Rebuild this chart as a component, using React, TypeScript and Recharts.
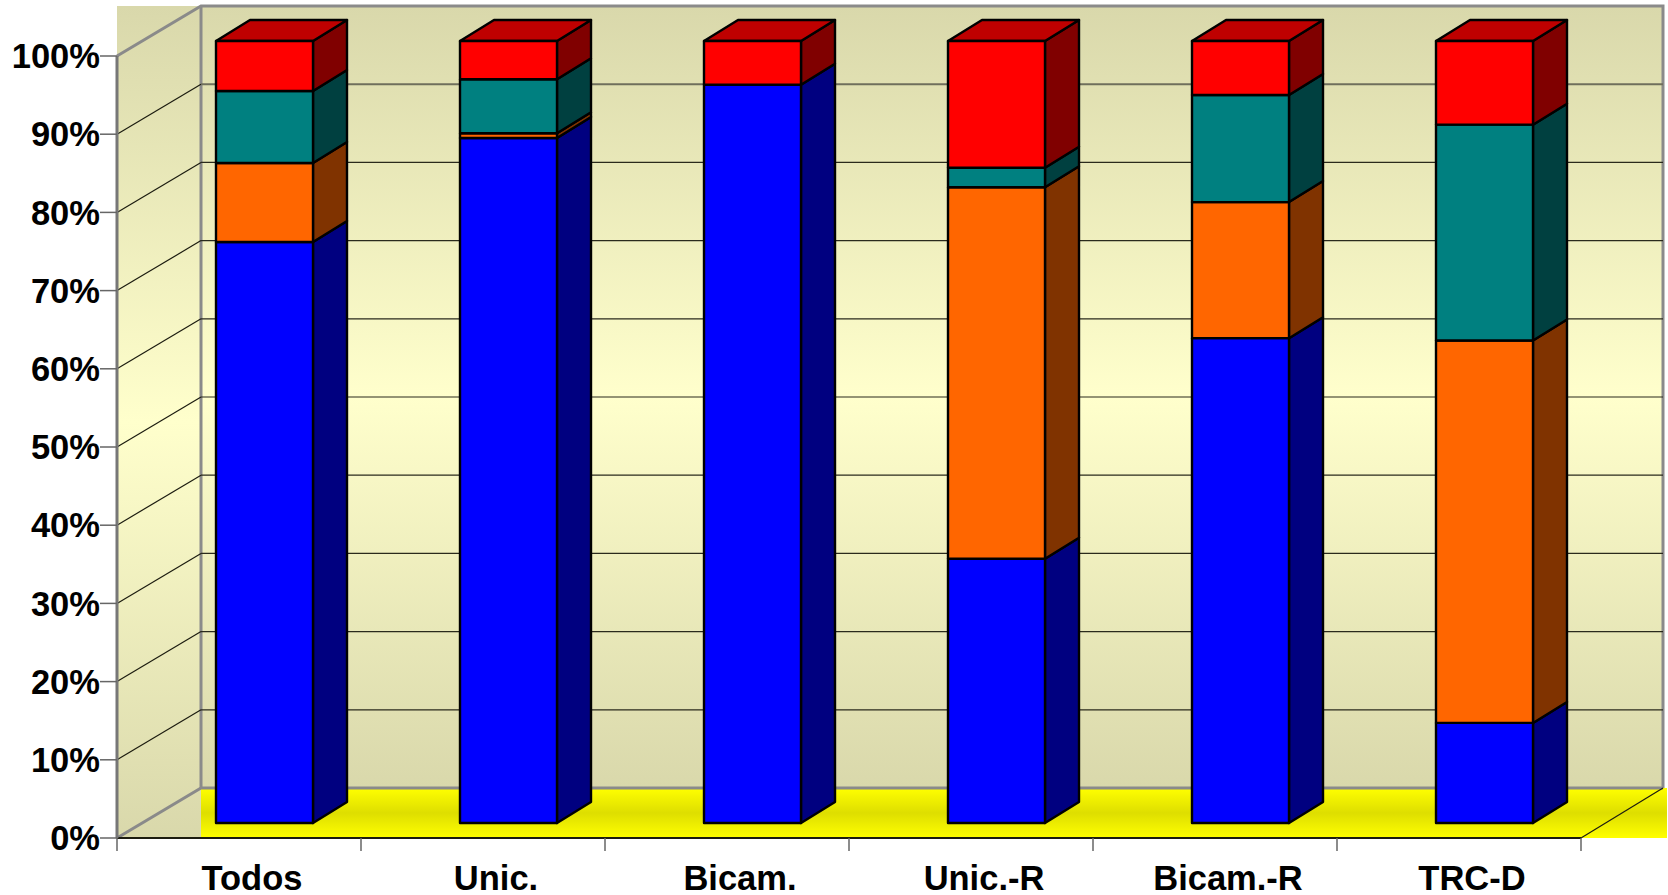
import React from 'react';
import { BarChart, Bar, XAxis, YAxis, CartesianGrid } from 'recharts';

const categories = ['Todos', 'Unic.', 'Bicam.', 'Unic.-R', 'Bicam.-R', 'TRC-D'];
const blueValues = [74.3, 87.6, 94.4, 33.8, 62.0, 12.8];
const orangeValues = [10.1, 0.6, 0, 47.5, 17.4, 48.9];
const tealValues = [9.2, 6.9, 0, 2.5, 13.7, 27.6];
const redValues = [6.4, 4.9, 5.6, 16.2, 6.9, 10.7];
const yTicks = [0, 10, 20, 30, 40, 50, 60, 70, 80, 90, 100];

const rows = categories.map((name, i) => ({
  name,
  blue: blueValues[i],
  orange: orangeValues[i],
  teal: tealValues[i],
  red: redValues[i],
}));

const WIDTH = 1668;
const HEIGHT = 895;
const PLOT_LEFT = 117;
const PLOT_RIGHT = 1581;
const PLOT_TOP = 56;
const PLOT_BOTTOM = 838;
const BAND = (PLOT_RIGHT - PLOT_LEFT) / categories.length;

// chart box depth, and where the bars sit inside it
const WALL_DX = 84;
const WALL_DY = -50;
const BAR_SHIFT_X = 25;
const BAR_SHIFT_Y = -15;
const BAR_DX = 34;
const BAR_DY = -21;

const FONT = '"Liberation Sans", Arial, sans-serif';
const FRAME = '#8a8a8a';

function Box3D(props: any) {
  const { x, y, width, height, fill, sideFill, topFill } = props;
  if (!height || height <= 0) return <g />;
  const l = x + BAR_SHIFT_X;
  const r = l + width;
  const t = y + BAR_SHIFT_Y;
  const b = t + height;
  const edge = { stroke: '#000', strokeWidth: 2.4, strokeLinejoin: 'round' as const };
  return (
    <g>
      <polygon
        points={`${r},${t} ${r + BAR_DX},${t + BAR_DY} ${r + BAR_DX},${b + BAR_DY} ${r},${b}`}
        fill={sideFill}
        {...edge}
      />
      {topFill && (
        <polygon
          points={`${l},${t} ${l + BAR_DX},${t + BAR_DY} ${r + BAR_DX},${t + BAR_DY} ${r},${t}`}
          fill={topFill}
          {...edge}
        />
      )}
      <rect x={l} y={t} width={width} height={height} fill={fill} {...edge} />
    </g>
  );
}

// horizontal rule that runs along the side wall and then across the back wall
function WallLine(props: any) {
  const { x1, y1, x2, index } = props;
  if (y1 <= PLOT_TOP + 1 || y1 >= PLOT_BOTTOM - 1) return <g key={index} />;
  const bx = x1 + WALL_DX;
  const by = y1 + WALL_DY;
  const heavy = Math.abs(by - 84) < 2;
  return (
    <g key={`wall-${y1}`}>
      <line x1={x1} y1={y1} x2={bx} y2={by} stroke="#1c1c10" strokeWidth={1.2} />
      <line
        x1={bx}
        y1={by}
        x2={x2 + WALL_DX - 2}
        y2={by}
        stroke={heavy ? '#6f6f5c' : '#2a2a1c'}
        strokeWidth={heavy ? 2 : 1.2}
      />
    </g>
  );
}

function CategoryTick(props: any) {
  const { x, y, payload, index } = props;
  const band = x - BAND / 2;
  return (
    <g>
      <line x1={band} y1={y} x2={band} y2={y + 13} stroke="#666" strokeWidth={1.5} />
      {index === categories.length - 1 && (
        <line x1={band + BAND} y1={y} x2={band + BAND} y2={y + 13} stroke="#666" strokeWidth={1.5} />
      )}
      <text
        x={x + 13}
        y={y + 52}
        textAnchor="middle"
        fontFamily={FONT}
        fontSize={34.5}
        fontWeight={700}
        fill="#000"
      >
        {payload.value}
      </text>
    </g>
  );
}

export default function App() {
  return (
    <div style={{ position: 'absolute', left: 0, top: 0, width: WIDTH, height: HEIGHT, background: '#fff' }}>
      <BarChart
        width={WIDTH}
        height={HEIGHT}
        data={rows}
        barSize={97}
        margin={{ top: PLOT_TOP, right: WIDTH - PLOT_RIGHT, bottom: 0, left: 0 }}
      >
        <defs>
          <linearGradient id="wallFill" x1="0" y1="0" x2="0" y2="1">
            <stop offset="0" stopColor="#d9d8ab" />
            <stop offset="0.5" stopColor="#ffffcc" />
            <stop offset="1" stopColor="#d9d8ab" />
          </linearGradient>
          <linearGradient id="floorFill" x1="0" y1="0" x2="0" y2="1">
            <stop offset="0" stopColor="#ffff00" />
            <stop offset="0.5" stopColor="#dede00" />
            <stop offset="1" stopColor="#ffff00" />
          </linearGradient>
        </defs>

        {/* side wall, back wall and floor */}
        <rect x={PLOT_LEFT} y={6} width={WALL_DX} height={PLOT_BOTTOM - 6} fill="url(#wallFill)" />
        <rect x={PLOT_LEFT + WALL_DX} y={6} width={1462} height={782} fill="url(#wallFill)" />
        <rect x={PLOT_LEFT + WALL_DX} y={788} width={1466} height={50} fill="url(#floorFill)" />

        <CartesianGrid vertical={false} horizontal={WallLine} zIndex={1} />

        {/* box edges */}
        <g fill="none" stroke={FRAME}>
          <polyline strokeWidth={3} points={`${PLOT_LEFT},${PLOT_TOP} 201,6 1663,6 1663,788`} />
          <polyline strokeWidth={3} points={`${PLOT_LEFT},${PLOT_BOTTOM} 201,788 1663,788`} />
          <line strokeWidth={3} x1={201} y1={6} x2={201} y2={788} />
        </g>
        <line x1={PLOT_RIGHT} y1={PLOT_BOTTOM} x2={1663} y2={788} stroke="#1c1c10" strokeWidth={1.2} />

        <XAxis
          dataKey="name"
          height={HEIGHT - PLOT_BOTTOM}
          tickLine={false}
          tickSize={0}
          tickMargin={0}
          interval={0}
          axisLine={{ stroke: '#1c1c10', strokeWidth: 2 }}
          tick={CategoryTick}
        />
        <YAxis
          width={PLOT_LEFT}
          domain={[0, 100]}
          ticks={yTicks}
          interval={0}
          tickSize={17}
          tickMargin={0}
          tickFormatter={(v) => `${v}%`}
          axisLine={{ stroke: '#777', strokeWidth: 3 }}
          tickLine={{ stroke: '#666', strokeWidth: 1.5 }}
          tick={{ fontFamily: FONT, fontSize: 34.5, fontWeight: 700, fill: '#000', dy: 0 }}
        />

        <Bar dataKey="blue" stackId="a" isAnimationActive={false} fill="#0000ff" shape={(p: any) => <Box3D {...p} sideFill="#000080" />} />
        <Bar dataKey="orange" stackId="a" isAnimationActive={false} fill="#ff6600" shape={(p: any) => <Box3D {...p} sideFill="#803300" />} />
        <Bar dataKey="teal" stackId="a" isAnimationActive={false} fill="#008080" shape={(p: any) => <Box3D {...p} sideFill="#004040" />} />
        <Bar dataKey="red" stackId="a" isAnimationActive={false} fill="#ff0000" shape={(p: any) => <Box3D {...p} sideFill="#800000" topFill="#bf0000" />} />
      </BarChart>
    </div>
  );
}
